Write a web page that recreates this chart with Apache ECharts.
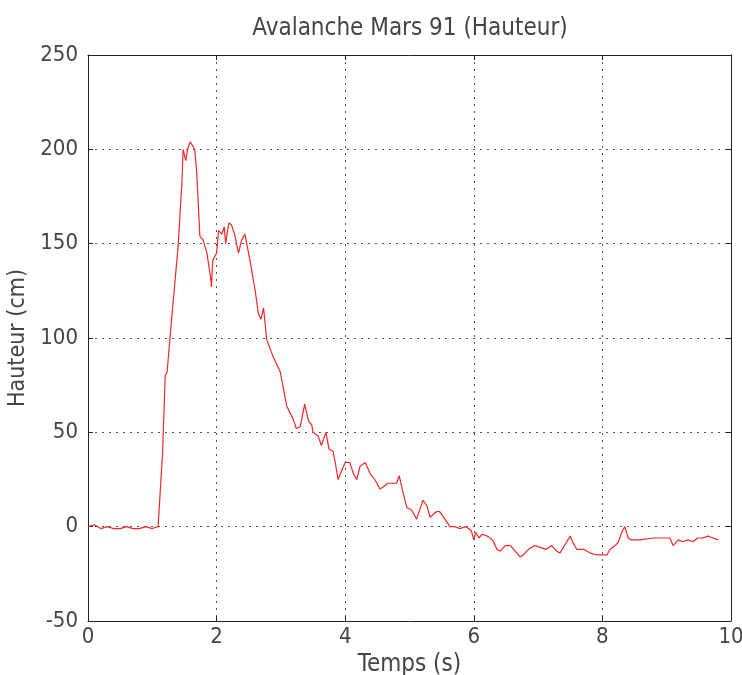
<!DOCTYPE html>
<html>
<head>
<meta charset="utf-8">
<script src="https://cdn.jsdelivr.net/npm/echarts@6/dist/echarts.min.js"></script>
<style>html,body{margin:0;padding:0;background:#fff;}#c{width:742px;height:675px;}</style>
</head>
<body>
<div id="c"></div>
<script>
const titleText = "Avalanche Mars 91 (Hauteur)";
const xName = "Temps (s)";
const yName = "Hauteur (cm)";
const xTicks = [0, 2, 4, 6, 8, 10];
const yTicks = [-50, 0, 50, 100, 150, 200, 250];
const temps = [0,0.1,0.2,0.3,0.4,0.5,0.6,0.7,0.8,0.9,1.0,1.09,
 1.16,1.2,1.23,1.3,1.4,1.46,1.48,1.52,1.55,1.59,1.66,1.69,1.74,1.79,1.85,1.91,1.92,1.94,
 2.0,2.03,2.08,2.12,2.14,2.19,2.23,2.28,2.34,2.39,2.44,2.47,2.52,2.57,2.6,2.65,2.69,2.73,2.75,2.78,2.88,2.99,
 3.09,3.19,3.24,3.3,3.37,3.43,3.48,3.5,3.58,3.63,3.7,3.75,3.81,3.84,3.89,3.95,
 4.0,4.07,4.13,4.18,4.23,4.31,4.39,4.46,4.54,4.59,4.66,4.8,4.84,4.9,4.96,
 5.03,5.11,5.21,5.27,5.32,5.42,5.47,5.55,5.63,5.7,5.78,5.88,5.96,
 6.0,6.03,6.08,6.13,6.21,6.29,6.36,6.41,6.49,6.57,6.62,6.72,6.77,6.85,6.95,
 7.03,7.13,7.21,7.29,7.34,7.41,7.5,7.55,7.6,7.71,7.81,7.92,
 8.01,8.07,8.12,8.2,8.25,8.3,8.35,8.4,8.45,8.58,8.79,
 9.05,9.1,9.18,9.25,9.33,9.41,9.48,9.56,9.64,9.72,9.8];
const hauteur = [0,1,-1,0,-1,-1,0,-1,-1,0,-1,0,
 39,80,82,110,148,182,200,194,200,204,200,188,154,152,145,131,127,141,
 145,157,155,159,150,161,160,155,145,152,155,155,141,131,125,113,110,116,117,99,90,82,
 64,57,52,53,65,56,54,50,48,43,50,41,40,35,25,30,
 34,34,28,25,32,34,28,25,20,21,23,23,27,18,10,
 9,4,14,11,5,8,8,4,0,0,-1,0,-2,
 -7,-3,-6,-4,-5,-7,-12,-13,-10,-10,-12,-16,-15,-12,-10,
 -11,-12,-10,-13,-14,-10,-5,-9,-12,-12,-14,-15,
 -15,-15,-12,-10,-8,-3,0,-6,-7,-7,-6,
 -6,-10,-7,-8,-7,-8,-6,-6,-5,-6,-7];

const font = "'Liberation Sans Narrow','DejaVu Sans Condensed','Liberation Sans',sans-serif";
const data = temps.map((t, i) => [t, hauteur[i]]);
const chart = echarts.init(document.getElementById('c'), null, {renderer: 'canvas'});
const axLine = {show: true, onZero: false, lineStyle: {color: '#222', width: 1}};
const axTick = {show: true, inside: true, length: 5, lineStyle: {color: '#222'}};
const gridLine = {show: true, lineStyle: {type: [2, 5], color: '#555', width: 1}};
chart.setOption({
  animation: false,
  backgroundColor: '#fff',
  title: {
    text: titleText, left: 405, top: 12, textAlign: 'center',
    textStyle: {fontFamily: font, fontSize: 24, fontWeight: 'normal', color: '#444'}
  },
  grid: {left: 88, right: 11, top: 55, bottom: 54, containLabel: false, outerBoundsMode: 'none'},
  xAxis: [{
    type: 'value', min: xTicks[0], max: xTicks[xTicks.length - 1], interval: 2,
    name: xName, nameLocation: 'middle', nameGap: 23,
    nameTextStyle: {fontFamily: font, fontSize: 24, color: '#444'},
    axisLine: axLine, axisTick: axTick,
    axisLabel: {margin: 5, fontFamily: font, fontSize: 22, color: '#444'},
    splitLine: gridLine
  }, {
    type: 'value', position: 'top', min: 0, max: 10, interval: 2,
    axisLine: axLine, axisTick: axTick,
    axisLabel: {show: false}, splitLine: {show: false}
  }],
  yAxis: [{
    type: 'value', min: yTicks[0], max: yTicks[yTicks.length - 1], interval: 50,
    name: yName, nameLocation: 'middle', nameGap: 51,
    nameTextStyle: {fontFamily: font, fontSize: 23, color: '#444'},
    axisLine: axLine, axisTick: axTick,
    axisLabel: {margin: 10, fontFamily: font, fontSize: 22, color: '#444'},
    splitLine: gridLine
  }, {
    type: 'value', position: 'right', min: -50, max: 250, interval: 50,
    axisLine: axLine, axisTick: axTick,
    axisLabel: {show: false}, splitLine: {show: false}
  }],
  series: [{
    type: 'line', data: data, xAxisIndex: 0, yAxisIndex: 0,
    showSymbol: false, symbol: 'none',
    lineStyle: {color: '#f02828', width: 1.2}
  }]
});
</script>
</body>
</html>
